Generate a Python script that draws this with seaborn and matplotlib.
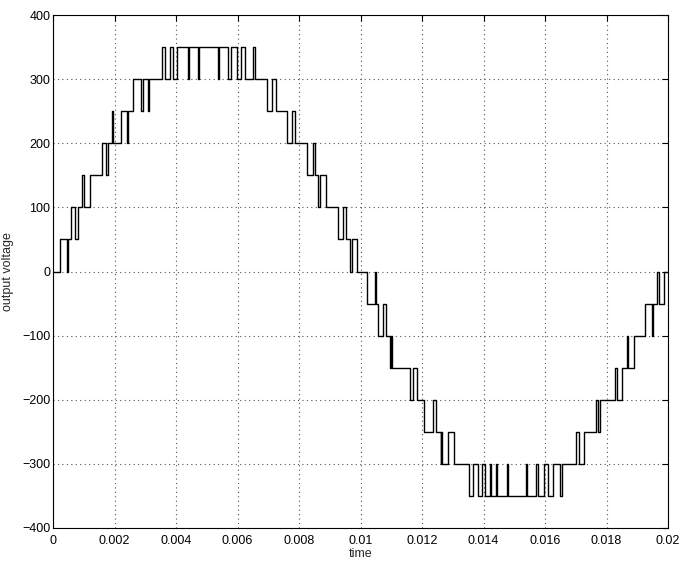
import numpy as np
import pandas as pd
import matplotlib
matplotlib.use("Agg")
import matplotlib.pyplot as plt
import seaborn as sns

# switching instants (ms) and the level held from each instant onward (V)
t_ms = [0.000, 0.228, 0.455, 0.488, 0.585, 0.715, 0.813, 0.943, 0.992, 1.203,
        1.584, 1.724, 1.789, 1.919, 1.967, 2.202, 2.397, 2.439, 2.592, 2.862,
        2.927, 3.089, 3.122, 3.535, 3.642, 3.805, 3.912, 4.023, 4.400, 4.423,
        4.725, 4.748, 5.376, 5.398, 5.691, 5.779, 5.974, 6.114, 6.244, 6.494,
        6.569, 6.969, 7.112, 7.252, 7.600, 7.763, 7.886, 8.250, 8.446, 8.520,
        8.628, 8.683, 8.868, 9.278, 9.441, 9.519, 9.659, 9.714, 9.896,
        10.221, 10.472, 10.520, 10.579, 10.741, 10.820, 10.959, 10.985, 11.015,
        11.610, 11.717, 11.828, 12.065, 12.348, 12.446, 12.608, 12.634, 12.660,
        12.855, 13.050, 13.538, 13.668, 13.831, 13.951, 14.049, 14.211, 14.244,
        14.407, 14.449, 14.774, 14.797, 15.382, 15.424, 15.707, 15.782, 15.967,
        16.098, 16.244, 16.488, 16.569, 16.998, 17.115, 17.268, 17.659, 17.733,
        17.789, 18.276, 18.351, 18.494, 18.657, 18.709, 18.894, 19.252, 19.470,
        19.522, 19.632, 19.717, 19.880, 20.000]
level = [0, 50, 0, 50, 100, 50, 100, 150, 100, 150,
         200, 150, 200, 250, 200, 250, 200, 250, 300, 250,
         300, 250, 300, 350, 300, 350, 300, 350, 300, 350,
         300, 350, 300, 350, 300, 350, 300, 350, 300, 350,
         300, 250, 300, 250, 200, 250, 200, 150, 200, 150,
         100, 150, 100, 50, 100, 50, 0, 50, 0,
         -50, 0, -50, -100, -50, -100, -150, -100, -150,
         -200, -150, -200, -250, -200, -250, -300, -250, -300,
         -250, -300, -350, -300, -350, -300, -350, -300, -350,
         -300, -350, -300, -350, -300, -350, -300, -350, -300,
         -350, -300, -350, -300, -250, -300, -250, -200, -250,
         -200, -150, -200, -150, -100, -150, -100, -50, -100,
         -50, 0, -50, 0, 0]

x_ticks = [0, 0.002, 0.004, 0.006, 0.008, 0.01, 0.012, 0.014, 0.016, 0.018, 0.02]
x_tick_labels = ["0", "0.002", "0.004", "0.006", "0.008", "0.01", "0.012", "0.014", "0.016", "0.018", "0.02"]
y_ticks = [-400, -300, -200, -100, 0, 100, 200, 300, 400]

df = pd.DataFrame({"time": np.array(t_ms) / 1000.0, "voltage": level})

sns.set_style("white")
plt.rcParams["font.family"] = ["Liberation Sans Narrow", "Liberation Sans", "DejaVu Sans"]

fig = plt.figure(figsize=(6.8, 5.64), dpi=100)
ax = fig.add_axes([53 / 680, 1 - 528 / 564, 615 / 680, 513 / 564])

sns.lineplot(data=df, x="time", y="voltage", drawstyle="steps-post",
             color="black", linewidth=1.0, estimator=None, sort=False, ax=ax)

ax.set_xlim(0, 0.02)
ax.set_ylim(-400, 400)
ax.set_xticks(x_ticks)
ax.set_xticklabels(x_tick_labels)
ax.set_yticks(y_ticks)
ax.grid(True, linestyle=(0, (1, 3)), color="#555555", linewidth=0.8)
ax.tick_params(direction="in", length=4, width=0.8, labelsize=9,
               top=True, right=True, color="black", labelcolor="black")
ax.tick_params(axis="x", pad=5)
ax.tick_params(axis="y", pad=2)
for s in ax.spines.values():
    s.set_visible(True)
    s.set_color("black")
    s.set_linewidth(0.8)
ax.set_xlabel("time", fontsize=9, labelpad=1)
ax.set_ylabel("output voltage", fontsize=9, labelpad=6)

fig.savefig("out.png", dpi=100, facecolor="white")
